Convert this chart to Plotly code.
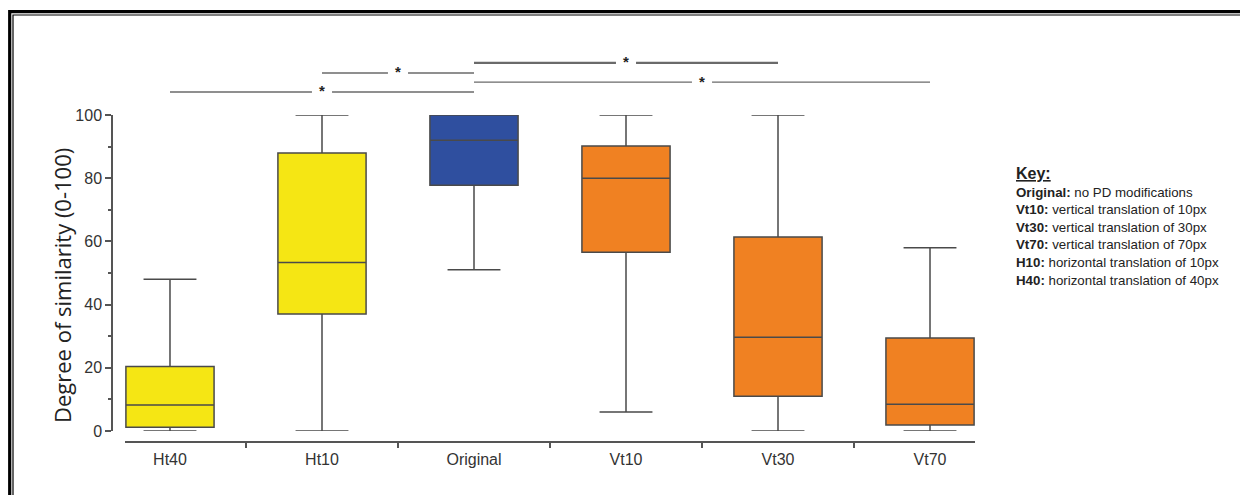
import plotly.graph_objects as go

categories = ["Ht40", "Ht10", "Original", "Vt10", "Vt30", "Vt70"]
lower_whisker = [0, 0, 51, 6, 0, 0]
q1 = [1.2, 37, 77.8, 56.6, 11, 1.9]
median = [8.2, 53.3, 92, 80, 29.7, 8.5]
q3 = [20.4, 88, 100, 90.2, 61.4, 29.4]
upper_whisker = [48, 100, 100, 100, 100, 58]
colors = ["#F5E614", "#F5E614", "#2F4F9F", "#F08122", "#F08122", "#F08122"]

# significance comparisons: (from index, to index, level in y units)
comp_from = [0, 1, 2, 2]
comp_to = [2, 2, 4, 5]
comp_level = [107.3, 113.3, 116.5, 110.4]
comp_width = [1.6, 1.6, 2.2, 1.2]

key_bold = ["Original:", "Vt10:", "Vt30:", "Vt70:", "H10:", "H40:"]
key_text = ["no PD modifications", "vertical translation of 10px",
            "vertical translation of 30px", "vertical translation of 70px",
            "horizontal translation of 10px", "horizontal translation of 40px"]

OFF = 8  # page body margin
W, H = 1248 - OFF, 495 - OFF
ML = 112 - OFF
MR = W - (975 - OFF)
MT = 115 - OFF
MB = H - (442 - OFF)
PW, PH = W - ML - MR, H - MT - MB
ydom0 = (442 - 431) / PH


def px_x(px):
    return (px - OFF - ML) / PW


def px_y(py):
    return (442 - py) / PH


def val_to_paper(v):
    return ydom0 + v / 100 * (1 - ydom0)


fig = go.Figure()
for i, c in enumerate(categories):
    fig.add_trace(go.Box(
        x=[c], q1=[q1[i]], median=[median[i]], q3=[q3[i]],
        lowerfence=[lower_whisker[i]], upperfence=[upper_whisker[i]],
        fillcolor=colors[i], line=dict(color="#4a4a4a", width=1.5),
        width=0.58, whiskerwidth=0.6, showlegend=False, boxpoints=False,
        hoverinfo="skip",
    ))

fig.update_layout(
    width=W, height=H,
    margin=dict(l=ML, r=MR, t=MT, b=MB, pad=0),
    paper_bgcolor="white", plot_bgcolor="white",
    boxmode="overlay",
    font=dict(family="Liberation Sans, Arial", color="#333333"),
    xaxis=dict(
        type="category", categoryorder="array", categoryarray=categories,
        range=[-0.296, 5.296], domain=[px_x(125), 1],
        anchor="free", position=0,
        showline=True, linecolor="#555555", linewidth=1.5,
        ticks="outside", tickson="boundaries", ticklen=5, tickcolor="#555555",
        tickwidth=1.5, showgrid=False, zeroline=False, ticklabelstandoff=3,
        tickfont=dict(size=16, color="#333333"),
    ),
    yaxis=dict(
        range=[0, 100], domain=[ydom0, 1], anchor="free", position=0,
        showline=True, linecolor="#555555", linewidth=1.5,
        ticks="outside", ticklen=6, tickcolor="#555555", tickwidth=1.5,
        tickvals=[0, 20, 40, 60, 80, 100],
        minor=dict(ticks="outside", ticklen=3, tickvals=[10, 30, 50, 70, 90],
                   tickcolor="#555555"),
        showgrid=False, zeroline=False,
        tickfont=dict(size=16, color="#333333"),
    ),
)

shapes = []
annotations = []
gap = 0.066
for a, b, lvl, lw in zip(comp_from, comp_to, comp_level, comp_width):
    mid = (a + b) / 2
    yp = val_to_paper(lvl)
    for x0, x1 in [(a, mid - gap), (mid + gap, b)]:
        shapes.append(dict(type="line", xref="x", yref="paper", x0=x0, x1=x1,
                           y0=yp, y1=yp, line=dict(color="#6a6a6a", width=lw)))
    annotations.append(dict(x=mid, y=yp + 0.003, xref="x", yref="paper", text="<b>*</b>",
                            showarrow=False, font=dict(size=15, color="#222222"),
                            yanchor="middle"))

# y-axis title
annotations.append(dict(x=px_x(62), y=px_y(286), xref="paper", yref="paper",
                        text="Degree of similarity (0-100)", textangle=-90,
                        showarrow=False, xanchor="center", yanchor="middle",
                        font=dict(family="Open Sans", size=22, color="#222222")))

# key
annotations.append(dict(x=px_x(1014), y=px_y(173), xref="paper", yref="paper",
                        text="<b><u>Key:</u></b>", showarrow=False, xanchor="left",
                        yanchor="middle", font=dict(size=16, color="#222222")))
for k, (bt, tt) in enumerate(zip(key_bold, key_text)):
    annotations.append(dict(x=px_x(1014), y=px_y(192 + k * 17.6), xref="paper",
                            yref="paper", text=f"<b>{bt}</b> {tt}", showarrow=False,
                            xanchor="left", yanchor="middle",
                            font=dict(size=13.3, color="#222222")))

# double frame
shapes.append(dict(type="rect", xref="paper", yref="paper",
                   x0=px_x(9.7), x1=px_x(1262), y0=px_y(11.7), y1=px_y(510),
                   line=dict(color="black", width=3.2)))
shapes.append(dict(type="rect", xref="paper", yref="paper",
                   x0=px_x(13), x1=px_x(1258), y0=px_y(15), y1=px_y(506),
                   line=dict(color="black", width=1.2)))

fig.update_layout(shapes=shapes, annotations=annotations)
fig.write_html("out.html")
